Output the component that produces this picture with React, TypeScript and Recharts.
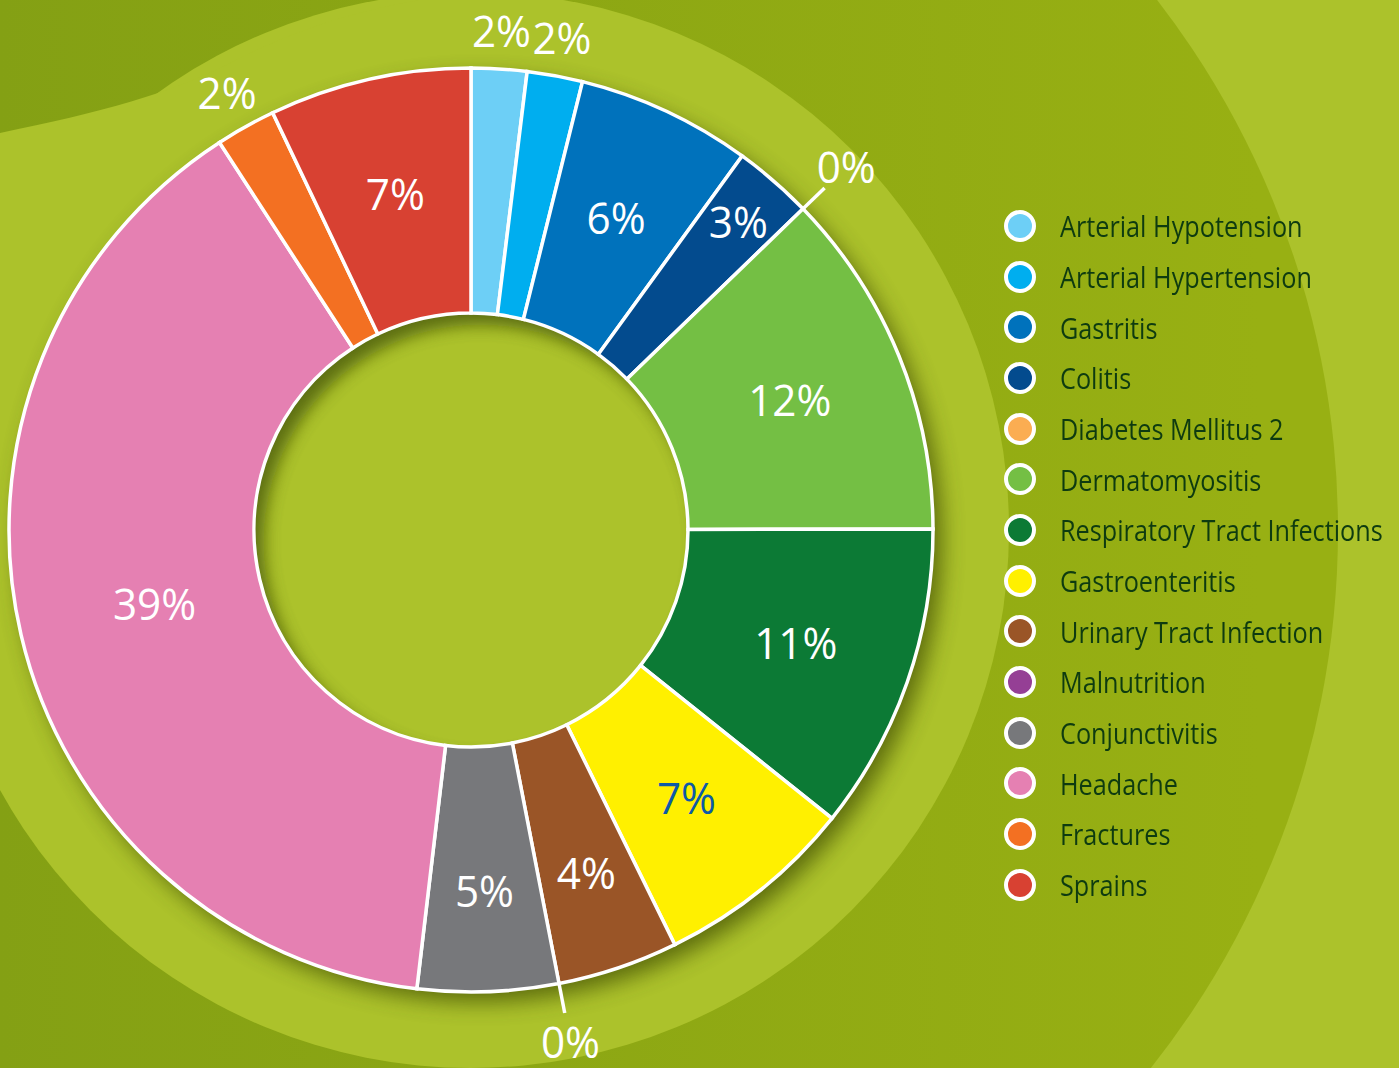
import React from 'react';
import { PieChart, Pie, Cell, Legend } from 'recharts';

const CATEGORIES = [
  'Arterial Hypotension',
  'Arterial Hypertension',
  'Gastritis',
  'Colitis',
  'Diabetes Mellitus 2',
  'Dermatomyositis',
  'Respiratory Tract Infections',
  'Gastroenteritis',
  'Urinary Tract Infection',
  'Malnutrition',
  'Conjunctivitis',
  'Headache',
  'Fractures',
  'Sprains',
];

const VALUES = [1.94, 1.94, 6.1, 2.78, 0, 12.2, 10.76, 7.0, 4.22, 0, 4.92, 38.96, 2.1, 7.06];

const COLORS = [
  '#6dcff6', '#00aeef', '#0072bc', '#034b8e', '#fbad52', '#74bf44', '#0c7a35',
  '#fff000', '#9a5527', '#953f95', '#77787b', '#e580b2', '#f37022', '#d84132',
];

const LABEL_COLORS = [
  '#ffffff', '#ffffff', '#ffffff', '#ffffff', '#ffffff', '#ffffff', '#ffffff',
  '#0d5aa7', '#ffffff', '#ffffff', '#ffffff', '#ffffff', '#ffffff', '#ffffff',
];

const data = CATEGORIES.map((name, i) => ({ name, value: VALUES[i] }));

const W = 1399;
const H = 1068;
const CX = 471;
const CY = 530;
const R_OUT = 462;
const R_IN = 217;
const LIGHT = '#acc22b';
const RAD = Math.PI / 180;

const renderLabel = (props: any) => {
  const { cx, cy, midAngle, percent, index, value } = props;
  const isZero = value === 0;
  let r = 344;
  if (isZero) r = 522;
  else if (percent < 0.025) r = 500;
  else if (percent < 0.04) r = 408;
  else if (percent >= 0.3) r = 325;
  else if (percent < 0.06) r = 362;
  const cos = Math.cos(-midAngle * RAD);
  const sin = Math.sin(-midAngle * RAD);
  const x = cx + r * cos;
  const y = cy + r * sin;
  const fs = 44;
  return (
    <g key={`lbl-${index}`}>
      {isZero && (
        <line
          x1={cx + R_OUT * cos}
          y1={cy + R_OUT * sin}
          x2={cx + 492 * cos}
          y2={cy + 492 * sin}
          stroke="#ffffff"
          strokeWidth={3.5}
        />
      )}
      <text
        transform={`translate(${x} ${y + fs * 0.357}) scale(0.96 1)`}
        textAnchor="middle"
        fill={LABEL_COLORS[index]}
        fontFamily='"Open Sans", "Noto Sans", sans-serif'
        fontWeight={400}
        fontSize={fs}
      >
        {`${Math.round(value)}%`}
      </text>
    </g>
  );
};

const renderLegend = () => (
  <div style={{ display: 'flex', flexDirection: 'column' }}>
    {CATEGORIES.map((name, i) => (
      <div key={name} style={{ height: 50.67, display: 'flex', alignItems: 'center' }}>
        <span
          style={{
            width: 24,
            height: 24,
            borderRadius: '50%',
            background: COLORS[i],
            border: '4px solid #ffffff',
            boxSizing: 'content-box',
            flex: 'none',
          }}
        />
        <span
          style={{
            marginLeft: 24,
            fontFamily: '"Open Sans", "Noto Sans", sans-serif',
            fontSize: 29,
            color: '#0e3b10',
            transform: 'scaleX(0.87)',
            transformOrigin: 'left center',
            whiteSpace: 'nowrap',
            lineHeight: 1,
            display: 'inline-block',
          }}
        >
          {name}
        </span>
      </div>
    ))}
  </div>
);

export default function App() {
  return (
    <div
      style={{
        position: 'fixed',
        left: 0,
        top: 0,
        width: W,
        height: H,
        overflow: 'hidden',
        background: LIGHT,
      }}
    >
      <svg width={W} height={H} style={{ position: 'absolute', left: 0, top: 0 }}>
        <defs>
          <linearGradient id="ringGrad" x1="0" y1="0" x2={W} y2="0" gradientUnits="userSpaceOnUse">
            <stop offset="0" stopColor="#84a014" />
            <stop offset="0.9" stopColor="#98b013" />
          </linearGradient>
          <filter id="blurShadow" x="-20%" y="-20%" width="140%" height="140%">
            <feGaussianBlur stdDeviation="11" />
          </filter>
          <filter id="blurInner" x="-20%" y="-20%" width="140%" height="140%">
            <feGaussianBlur stdDeviation="8" />
          </filter>
          <clipPath id="holeClip">
            <circle cx={CX} cy={CY} r={R_IN} />
          </clipPath>
        </defs>
        <rect x={0} y={0} width={W} height={H} fill={LIGHT} />
        <circle cx={CX} cy={CY} r={867} fill="url(#ringGrad)" />
        <circle cx={CX} cy={CY} r={538} fill={LIGHT} />
        <path
          d="M0,133 C100,112 170,95 240,58 C300,28 360,10 420,0 L471,0 L471,530 L0,530 Z"
          fill={LIGHT}
        />
        <circle
          cx={CX + 9}
          cy={CY + 10}
          r={R_OUT}
          fill="#3a4700"
          opacity={0.7}
          filter="url(#blurShadow)"
        />
        <circle cx={CX} cy={CY} r={R_IN} fill={LIGHT} />
        <g clipPath="url(#holeClip)">
          <circle
            cx={CX + 10}
            cy={CY + 12}
            r={R_IN + 20}
            fill="none"
            stroke="#4f6108"
            strokeWidth={40}
            opacity={0.85}
            filter="url(#blurInner)"
          />
        </g>
      </svg>
      <div style={{ position: 'absolute', left: 0, top: 0 }}>
        <PieChart width={W} height={H} margin={{ top: 0, right: 0, bottom: 0, left: 0 }}>
          <Pie
            data={data}
            dataKey="value"
            nameKey="name"
            cx={CX}
            cy={CY}
            innerRadius={R_IN}
            outerRadius={R_OUT}
            startAngle={90}
            endAngle={-270}
            stroke="#ffffff"
            strokeWidth={3.5}
            label={renderLabel}
            labelLine={false}
            isAnimationActive={false}
          >
            {data.map((d, i) => (
              <Cell key={d.name} fill={COLORS[i]} />
            ))}
          </Pie>
          <Legend
            layout="vertical"
            align="right"
            verticalAlign="middle"
            content={renderLegend}
            wrapperStyle={{ left: 1004, top: 200.67, width: 395, right: 'auto', bottom: 'auto' }}
          />
        </PieChart>
      </div>
    </div>
  );
}
